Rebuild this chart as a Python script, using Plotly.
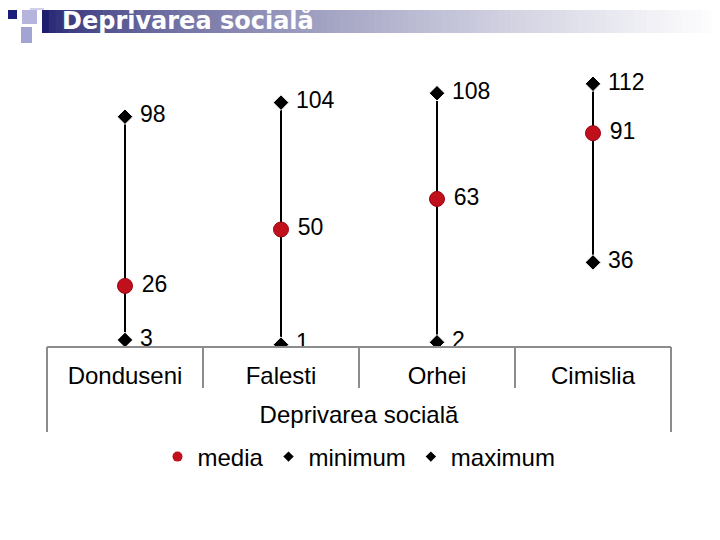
import plotly.graph_objects as go

categories = ["Donduseni", "Falesti", "Orhei", "Cimislia"]
media = [26, 50, 63, 91]
minimum = [3, 1, 2, 36]
maximum = [98, 104, 108, 112]
title_text = "Deprivarea socială"
axis_title = "Deprivarea socială"

OFF = 8  # page body margin
W, H = 720 - OFF, 540 - OFF
# plot area in page px
L, R, T, B = 47, 671, 65, 347

def px(x):
    return (x - L) / (R - L)

def py(y):
    return (B - y) / (B - T)

FONT = "Liberation Sans, Arial, sans-serif"
SP = "\u00a0"

fig = go.Figure()

# high-low lines
lx, ly = [], []
for c, lo, hi in zip(categories, minimum, maximum):
    lx += [c, c, None]
    ly += [lo, hi, None]
fig.add_trace(go.Scatter(x=lx, y=ly, mode="lines", line=dict(color="black", width=2),
                         showlegend=False, hoverinfo="skip"))

diamond = dict(symbol="diamond", size=12, color="black", line=dict(color="white", width=1))
circle = dict(symbol="circle", size=15, color="#c0101c", line=dict(color="#9a0010", width=1))
tfont = dict(size=23, color="black", family=FONT)

fig.add_trace(go.Scatter(x=categories, y=minimum, name="minimum", mode="markers+text",
                         text=[SP + str(v) for v in minimum], textposition="middle right",
                         textfont=tfont, marker=diamond, showlegend=False))
fig.add_trace(go.Scatter(x=categories, y=maximum, name="maximum", mode="markers+text",
                         text=[SP + str(v) for v in maximum], textposition="middle right",
                         textfont=tfont, marker=diamond, showlegend=False))
fig.add_trace(go.Scatter(x=categories, y=media, name="media", mode="markers+text",
                         text=[SP + str(v) for v in media], textposition="middle right",
                         textfont=tfont, marker=circle, showlegend=False))

# legend entries (smaller symbols, like the reference legend)
fig.add_trace(go.Scatter(x=[None], y=[None], name="media", mode="markers",
                         marker=dict(symbol="circle", size=10, color="#c0101c")))
fig.add_trace(go.Scatter(x=[None], y=[None], name="minimum", mode="markers",
                         marker=dict(symbol="diamond", size=8, color="black")))
fig.add_trace(go.Scatter(x=[None], y=[None], name="maximum", mode="markers",
                         marker=dict(symbol="diamond", size=8, color="black")))

shapes = []
# title gradient bar
x0, x1 = 42, 722
n = 100
for i in range(n):
    t = (i / (n - 1)) ** 0.6
    r = int(0x1e + (255 - 0x1e) * t)
    g = int(0x1e + (255 - 0x1e) * t)
    b = int(0x6e + (255 - 0x6e) * t)
    xa = x0 + (x1 - x0) * i / n
    xb = x0 + (x1 - x0) * (i + 1) / n + 0.6
    shapes.append(dict(type="rect", xref="paper", yref="paper", x0=px(xa), x1=px(xb),
                       y0=py(33), y1=py(10), fillcolor=f"rgb({r},{g},{b})",
                       line=dict(width=0), layer="below"))
# decorative squares
for (a, b_, c, d, col) in [
    (0, 0, 7, 10, "#d4d4ec"),
    (30, 0, 44, 10, "#d0d0ea"),
    (22, 10, 37, 24, "#b4b4dc"),
    (8, 10, 17, 19, "#1c1c7c"),
    (21, 27, 32, 43, "#a4a4d4"),
    (0, 12, 6, 26, "#e4e4f4"),
]:
    shapes.append(dict(type="rect", xref="paper", yref="paper", x0=px(a), x1=px(c),
                       y0=py(d), y1=py(b_), fillcolor=col, line=dict(width=0), layer="below"))

# category axis line and boundaries
axcol = "#8c8c8c"
shapes.append(dict(type="line", xref="paper", yref="paper", x0=0, x1=1, y0=0, y1=0,
                   line=dict(color=axcol, width=2)))
ncat = len(categories)
for i in range(ncat + 1):
    xp = i / ncat
    ybot = py(432) if i in (0, ncat) else py(388)
    shapes.append(dict(type="line", xref="paper", yref="paper", x0=xp, x1=xp, y0=0, y1=ybot,
                       line=dict(color=axcol, width=2)))

fig.update_layout(
    width=W, height=H,
    margin=dict(l=L - OFF, r=W - (R - OFF), t=T - OFF, b=H - (B - OFF)),
    paper_bgcolor="white", plot_bgcolor="white",
    font=dict(family=FONT, size=24, color="black"),
    title=dict(text=f"<b>{title_text}</b>", x=(62 - OFF) / W, xanchor="left",
               y=1 - (21 - OFF) / H, yanchor="middle",
               font=dict(size=24, color="white", family="DejaVu Sans, sans-serif")),
    xaxis=dict(type="category", range=[-0.5, ncat - 0.5], showline=False, showgrid=False,
               zeroline=False, ticks="", ticklabelstandoff=12,
               tickfont=dict(size=24, family=FONT),
               title=dict(text=axis_title, font=dict(size=24, family=FONT), standoff=18)),
    yaxis=dict(range=[0, 120], visible=False, showgrid=False, zeroline=False),
    legend=dict(orientation="h", x=0.5, xanchor="center", y=py(457), yanchor="middle",
                traceorder="normal", font=dict(size=24, family=FONT), itemwidth=30),
    shapes=shapes,
    showlegend=True,
)

fig.write_html("out.html")
